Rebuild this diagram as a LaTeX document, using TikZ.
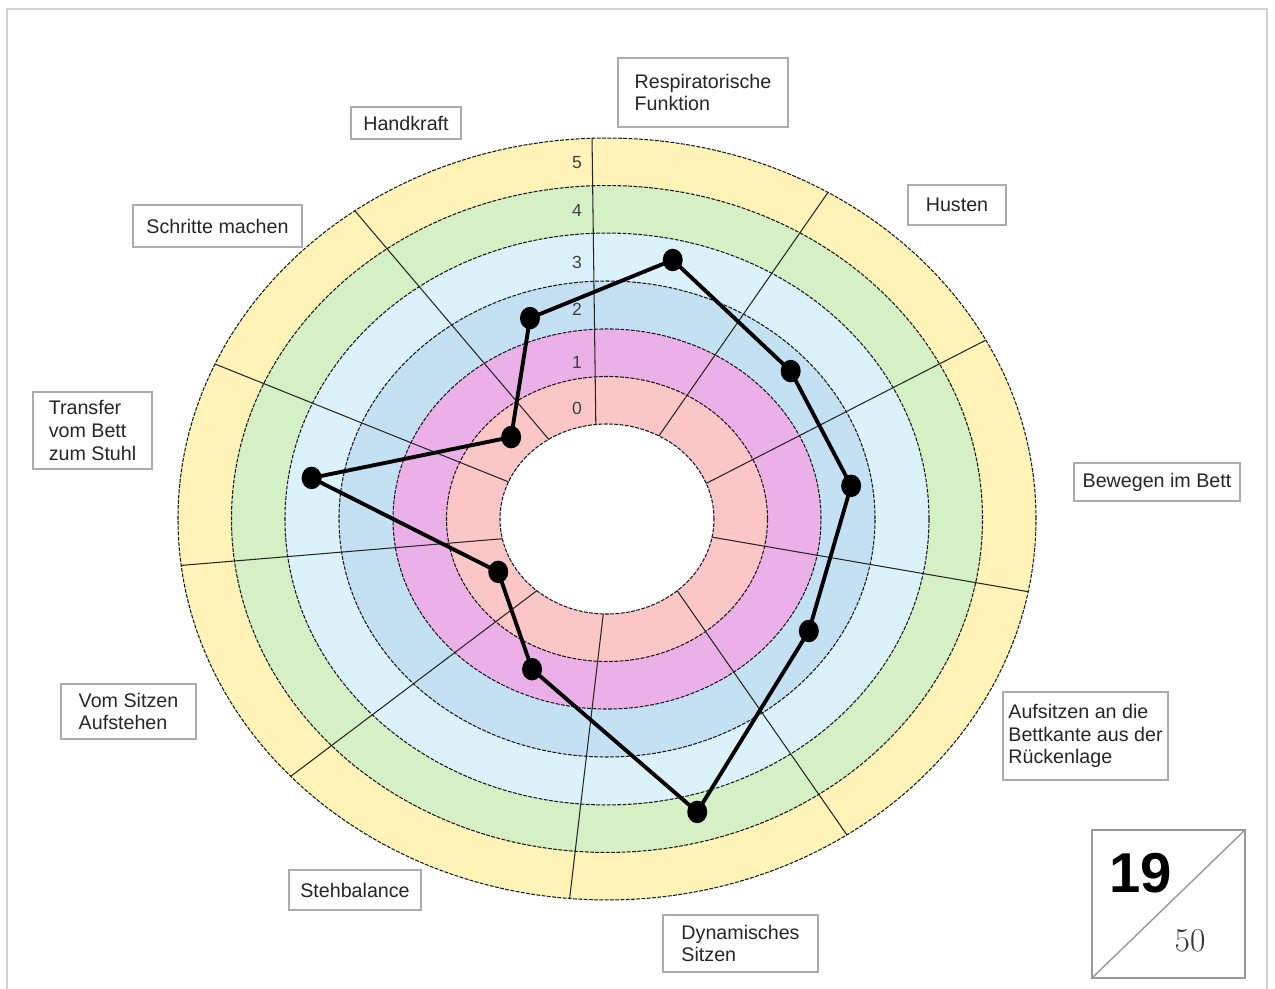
\documentclass[tikz,border=0pt]{standalone}
\usepackage{fontspec}
\usetikzlibrary{shapes.geometric}
\newfontfamily\etiq{Liberation Sans}

\definecolor{anneauJ}{HTML}{FFF3B8}
\definecolor{anneauV}{HTML}{D4F0C4}
\definecolor{anneauC}{HTML}{DCF2FA}
\definecolor{anneauB}{HTML}{C4E1F3}
\definecolor{anneauM}{HTML}{ECB0E8}
\definecolor{anneauR}{HTML}{FAC6C6}

\tikzset{
  cadre/.style = {draw=gray!65, line width=0.8pt, fill=white, align=left, text=black!85,
                  font=\etiq\fontsize{11.2}{13}\selectfont, inner sep=1pt},
  bord/.style = {black!90, line width=0.6pt, dash pattern=on 2.2pt off 0.8pt},
  rayon/.style = {black!85, line width=0.6pt},
  point/.style = {ellipse, fill=black, inner sep=0pt, minimum width=0.4cm, minimum height=0.45cm},
  trace/.style = {line width=2.2pt, line join=round},
  chiffre/.style = {font=\etiq\fontsize{10}{10}\selectfont, text=black!75, inner sep=0pt}
}

\begin{document}
\begin{tikzpicture}[x=0.02cm, y=-0.02cm]
  \useasboundingbox (0,0) rectangle (1275,989);
  \fill[white] (0,0) rectangle (1275,989);
  \draw[gray!35, line width=1.2pt] (7,1000) -- (7,9) -- (1267,9) -- (1267,1000);

  \begin{scope}[shift={(607,519)}, yscale=-0.888]
    % Les anneaux
    \foreach \r/\c in {429/anneauJ, 375.5/anneauV, 322/anneauC, 268/anneauB, 214/anneauM, 160.5/anneauR, 107/white}
      \fill[\c] (0,0) circle (\r);
    \foreach \r in {429, 375.5, 322, 268, 214, 160.5, 107}
      \draw[bord] (0,0) circle (\r);

    % Les rayons
    \foreach \a/\b in {96/92, 61/59, 22/28, -11/-11, -49/-56, -92/-95, -131/-137.5, -168/-173, 157/156, 123/126}
      \draw[rayon] (\a:107) -- (\b:429);

    % Les points
    \foreach \n/\a/\r in {resp/77.3/299, husten/42.2/248, bewegen/8.7/247, aufsitzen/-32/238,
                          dynamisch/-74.7/342, steh/-113.9/185, aufstehen/-151.3/124,
                          transfer/171.1/299, schritte/136.1/133, hand/108.8/239}
      \node[point] (p\n) at (\a:\r) {};
  \end{scope}

  % Le trace
  \draw[trace] (phand.center) -- (presp.center) -- (phusten.center) -- (pbewegen.center)
    -- (paufsitzen.center) -- (pdynamisch.center) -- (psteh.center) -- (paufstehen.center)
    -- (ptransfer.center) -- (pschritte.center) -- cycle;

  % Les chiffres
  \foreach \v/\y in {5/163, 4/210, 3/262, 2/309, 1/362, 0/408}
    \node[chiffre] (s\v) at (577,\y) {\v};

  % Les etiquettes
  \node[cadre, minimum width=3.4cm, minimum height=1.38cm] (lresp) at (703,92.5) {Respiratorische\\Funktion};
  \node[cadre, minimum width=1.96cm, minimum height=0.8cm] (lhusten) at (957,205) {Husten};
  \node[cadre, minimum width=3.32cm, minimum height=0.76cm] (lbewegen) at (1157,482) {Bewegen im Bett};
  \node[cadre, minimum width=3.3cm, minimum height=1.76cm] (laufsitzen) at (1085.5,736) {Aufsitzen an die\\Bettkante aus der\\Rückenlage};
  \node[cadre, minimum width=3.1cm, minimum height=1.14cm] (ldynamisch) at (740.5,943.5) {Dynamisches\\Sitzen};
  \node[cadre, minimum width=2.64cm, minimum height=0.8cm] (lsteh) at (355,890) {Stehbalance};
  \node[cadre, minimum width=2.7cm, minimum height=1.1cm] (laufstehen) at (128.5,711.5) {Vom Sitzen\\Aufstehen};
  \node[cadre, minimum width=2.38cm, minimum height=1.54cm] (ltransfer) at (92.5,430.5) {Transfer\\vom Bett\\zum Stuhl};
  \node[cadre, minimum width=3.38cm, minimum height=0.84cm] (lschritte) at (217.5,226) {Schritte machen};
  \node[cadre, minimum width=2.2cm, minimum height=0.64cm] (lhand) at (406,123) {Handkraft};

  % Le score
  \node[draw=gray!80, line width=0.9pt, minimum width=3.06cm, minimum height=2.96cm, inner sep=0pt] (score) at (1168.5,904) {};
  \draw[gray!80, line width=0.8pt] (score.south west) -- (score.north east);
  \node[font=\etiq\bfseries\fontsize{32}{32}\selectfont] (pts) at (1140.5,873) {19};
  \node[font=\fontsize{19}{19}\selectfont, text=black!80] (total) at (1190,941) {50};
\end{tikzpicture}
\end{document}
